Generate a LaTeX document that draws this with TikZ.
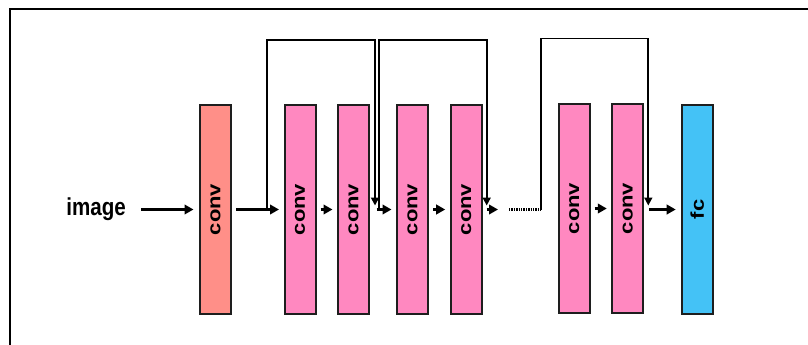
\documentclass[tikz,border=0pt]{standalone}
\usepackage{fontspec}
\setmainfont{Liberation Sans}
\usetikzlibrary{arrows.meta}

\definecolor{convred}{RGB}{255,143,136}
\definecolor{convpink}{RGB}{255,136,192}
\definecolor{fcblue}{RGB}{68,194,246}
\definecolor{edgegray}{RGB}{30,30,30}

% narrow the glyphs a little, as in a condensed sans
\newcommand{\narrow}[1]{\scalebox{0.84}[1]{#1}}
\newcommand{\vlabel}[1]{\narrow{\rotatebox{90}{#1}}}

\begin{document}
\begin{tikzpicture}[x=1pt,y=-1pt,
  layer/.style={draw=edgegray, line width=2pt, minimum width=31pt,
    minimum height=209pt, inner sep=0pt,
    font=\bfseries\fontsize{22}{22}\selectfont},
  flow/.style={line width=2.3pt, -{Triangle[length=9pt,width=9.5pt]},
    shorten <=4pt, shorten >=4.5pt},
  skip/.style={line width=1.8pt, -{Triangle[length=8pt,width=8pt]}},
  dotline/.style={line width=2.2pt, dash pattern=on 1.3pt off 1.1pt},
]
\useasboundingbox (0,0) rectangle (808,345);

% frame
\draw[line width=2.6pt] (10,346) -- (10,9) -- (809,9);

% input label
\node[anchor=base east, inner sep=0pt,
  font=\bfseries\fontsize{24.5}{24.5}\selectfont] (img) at (126,215) {\narrow{image}};

% layers
\node[layer, fill=convred]  (c0) at (215.5,209.5) {\vlabel{conv}};
\node[layer, fill=convpink] (c1) at (300.0,209.5) {\vlabel{conv}};
\node[layer, fill=convpink] (c2) at (353.5,209.5) {\vlabel{conv}};
\node[layer, fill=convpink] (c3) at (412.5,209.5) {\vlabel{conv}};
\node[layer, fill=convpink] (c4) at (466.2,209.5) {\vlabel{conv}};
\node[layer, fill=convpink] (c5) at (574.2,208.5) {\vlabel{conv}};
\node[layer, fill=convpink] (c6) at (627.8,208.5) {\vlabel{conv}};
\node[layer, fill=fcblue]   (fc) at (697.2,209.5) {\vlabel{fc}};

% points where the shortcut paths leave and rejoin the main line
\coordinate (s1) at (267.0,209.5);
\coordinate (t1) at (375.0,205.5);
\coordinate (s2) at (379.3,209.5);
\coordinate (t2) at (486.7,205.5);
\coordinate (cont) at (498.0,209.5);
\coordinate (d0) at (509.0,209.5);
\coordinate (s3) at (541.0,209.5);
\coordinate (t3) at (648.3,205.5);

% main path
\draw[flow, shorten <=15pt, shorten >=5.5pt] (img.east |- c0.west) -- (c0.west);
\draw[flow] (c0) -- (c1);
\draw[flow] (c1) -- (c2);
\draw[flow, shorten <=6.5pt] (c2) -- (c3);
\draw[flow] (c3) -- (c4);
\draw[flow, shorten >=0pt] (c4.east) -- (cont);
\draw[dotline] (d0) -- (s3);
\draw[flow] (c5.east |- c6.west) -- (c6.west);
\draw[flow, shorten <=5pt, shorten >=5pt] (c6.east |- fc.west) -- (fc.west);

% shortcut connections
\draw[skip] (s1) -- (267.0,40.0) -| (t1);
\draw[skip] (s2) -- (379.3,40.0) -| (t2);
\draw[skip] (s3) -- (541.0,38.5) -| (t3);
\end{tikzpicture}
\end{document}
